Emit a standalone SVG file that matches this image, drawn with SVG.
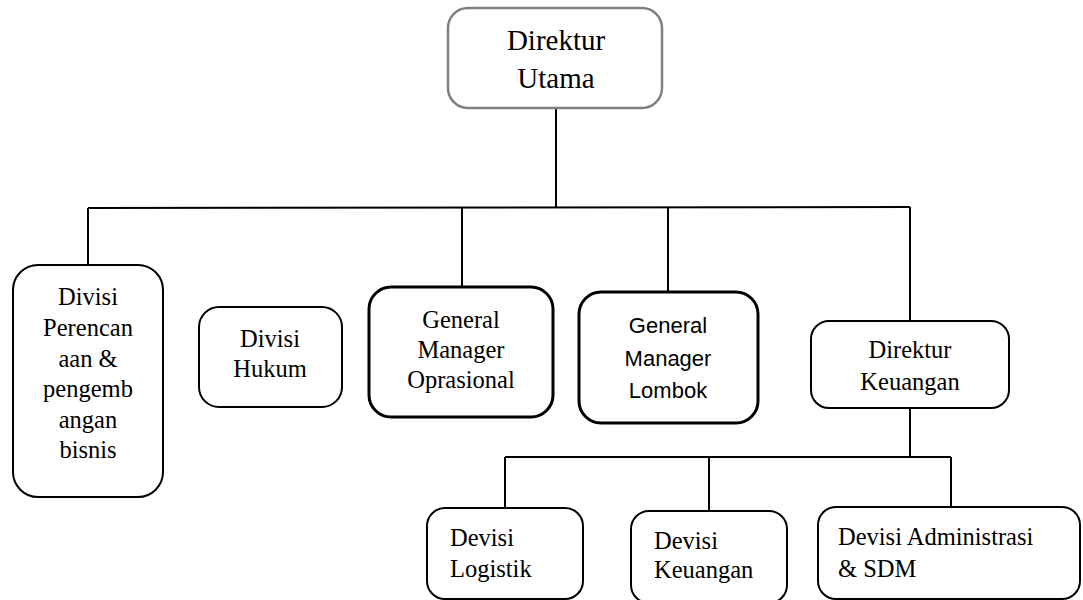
<svg xmlns="http://www.w3.org/2000/svg" width="1083" height="600" viewBox="0 0 1083 600">
<style>
.bx{fill:#fff;stroke:#000;stroke-width:2}
.bx3{fill:#fff;stroke:#000;stroke-width:3}
.top{fill:#fff;stroke:#7f7f7f;stroke-width:2.5}
.ln{stroke:#000;stroke-width:2;fill:none}
.t{font-family:"Liberation Serif","Times New Roman",serif;font-size:24.5px;fill:#000}
.c{text-anchor:middle}
.s{font-family:"Liberation Sans",Arial,sans-serif;font-size:22px;fill:#000;text-anchor:middle}
</style>
<rect width="1083" height="600" fill="#fff"/>
<g id="connectors">
<path class="ln" d="M556 108 V207"/>
<path class="ln" d="M88 208 L910 207"/>
<path class="ln" d="M88 208 V265"/>
<path class="ln" d="M462 207 V287"/>
<path class="ln" d="M668 207 V292"/>
<path class="ln" d="M910 207 V321"/>
<path class="ln" d="M910 408 V457"/>
<path class="ln" d="M505 457 H951"/>
<path class="ln" d="M505 457 V508"/>
<path class="ln" d="M709 457 V511"/>
<path class="ln" d="M951 457 V507"/>
</g>
<g id="direktur-utama">
<rect class="top" x="448" y="8" width="214" height="100" rx="20"/>
<text class="t c" x="556" y="50" style="font-size:29px">Direktur</text>
<text class="t c" x="556" y="88" style="font-size:29px">Utama</text>
</g>
<g id="divisi-perencanaan">
<rect class="bx" x="13" y="265" width="150" height="232" rx="25"/>
<text class="t c" x="88" y="305">Divisi</text>
<text class="t c" x="88" y="336">Perencan</text>
<text class="t c" x="88" y="367">aan &amp;</text>
<text class="t c" x="88" y="397">pengemb</text>
<text class="t c" x="88" y="428">angan</text>
<text class="t c" x="88" y="458">bisnis</text>
</g>
<g id="divisi-hukum">
<rect class="bx" x="199" y="307" width="143" height="100" rx="20"/>
<text class="t c" x="270" y="347">Divisi</text>
<text class="t c" x="270" y="377">Hukum</text>
</g>
<g id="gm-oprasional">
<rect class="bx3" x="369" y="287" width="184" height="130" rx="22"/>
<text class="t c" x="461" y="328">General</text>
<text class="t c" x="461" y="358">Manager</text>
<text class="t c" x="461" y="388">Oprasional</text>
</g>
<g id="gm-lombok">
<rect class="bx3" x="579" y="292" width="179" height="131" rx="22"/>
<text class="s" x="668" y="333">General</text>
<text class="s" x="668" y="366">Manager</text>
<text class="s" x="668" y="398">Lombok</text>
</g>
<g id="direktur-keuangan">
<rect class="bx" x="811" y="321" width="198" height="87" rx="18"/>
<text class="t c" x="910" y="358">Direktur</text>
<text class="t c" x="910" y="390">Keuangan</text>
</g>
<g id="devisi-logistik">
<rect class="bx" x="427" y="508" width="156" height="91" rx="18"/>
<text class="t" x="450" y="546">Devisi</text>
<text class="t" x="450" y="577">Logistik</text>
</g>
<g id="devisi-keuangan">
<rect class="bx" x="631" y="511" width="156" height="92" rx="18"/>
<text class="t" x="654" y="549">Devisi</text>
<text class="t" x="654" y="578">Keuangan</text>
</g>
<g id="devisi-administrasi">
<rect class="bx" x="818" y="507" width="262" height="92" rx="18"/>
<text class="t" x="838" y="545">Devisi Administrasi</text>
<text class="t" x="838" y="577">&amp; SDM</text>
</g>
</svg>
